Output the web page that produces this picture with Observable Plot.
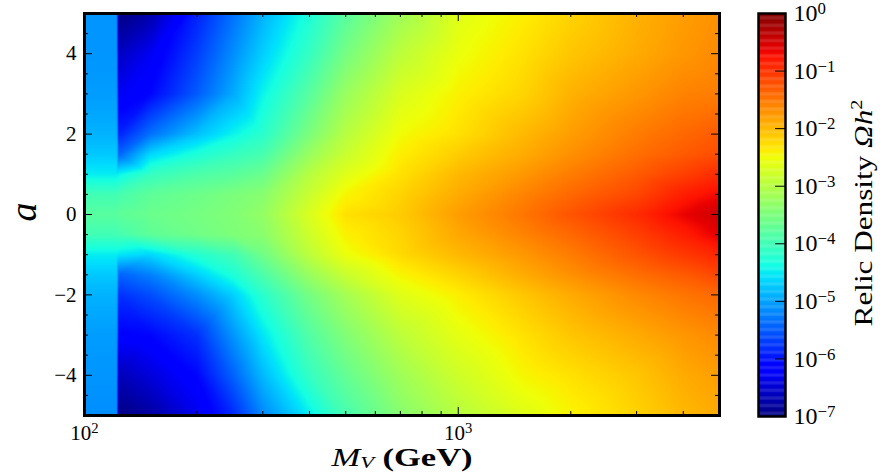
<!DOCTYPE html>
<html>
<head>
<meta charset="utf-8">
<script src="https://cdn.jsdelivr.net/npm/d3@7"></script>
<script src="https://cdn.jsdelivr.net/npm/@observablehq/plot@0.6"></script>
<style>
  html, body { margin: 0; padding: 0; background: #fff; }
  #wrap { position: relative; width: 886px; height: 475px; background: #fff; overflow: hidden;
          font-family: "Liberation Serif", "Times New Roman", "DejaVu Serif", serif; color: #000; }
  #wrap svg { position: absolute; top: 0; }
  .lbl { position: absolute; white-space: nowrap; line-height: 1; }
</style>
</head>
<body>
<div id="wrap"></div>
<script>
// ---- data: log10 of relic density Omega h^2 ----
const mvGrid = [100, 122, 123.5, 150, 200, 250, 300, 400, 500, 700, 1000, 1500, 2000, 3000, 4000, 5000];
const aGrid  = [5, 4, 3, 2, 1.5, 1, 0.5, 0, -0.5, -1, -1.5, -2, -3, -4, -5];

const rowA5    = [-5.1, -5.1, -7.0, -6.75, -5.9, -5.35, -4.9, -4.3, -3.8, -3.2, -2.65, -2.4, -2.2, -1.95, -1.8, -1.7];
const rowA4    = [-5.1, -5.1, -6.6, -6.3, -5.7, -5.15, -4.7, -4.1, -3.55, -2.95, -2.55, -2.3, -2.1, -1.9, -1.75, -1.65];
const rowA3    = [-5.05, -5.05, -6.3, -6.1, -5.5, -4.95, -4.45, -3.8, -3.25, -2.7, -2.42, -2.2, -1.95, -1.75, -1.6, -1.55];
const rowA2    = [-4.9, -4.9, -5.9, -5.35, -4.8, -4.45, -4.2, -3.5, -3.0, -2.5, -2.3, -2.0, -1.8, -1.55, -1.4, -1.3];
const rowA1p5  = [-4.75, -4.75, -5.45, -4.65, -4.3, -4.1, -3.95, -3.25, -2.85, -2.4, -2.15, -1.9, -1.7, -1.45, -1.3, -1.2];
const rowA1    = [-4.5, -4.5, -4.45, -4.1, -3.9, -3.8, -3.65, -3.0, -2.65, -2.3, -2.0, -1.75, -1.55, -1.3, -1.1, -0.95];
const rowA0p5  = [-4.0, -4.0, -3.95, -3.75, -3.62, -3.5, -3.4, -2.85, -2.45, -2.2, -1.9, -1.6, -1.4, -1.15, -0.85, -0.7];
const rowA0    = [-3.8, -3.8, -3.75, -3.65, -3.55, -3.45, -3.3, -2.7, -2.3, -2.14, -1.8, -1.5, -1.25, -0.95, -0.65, -0.45];
const rowAm0p5 = [-4.0, -4.0, -3.95, -3.75, -3.6, -3.48, -3.38, -2.8, -2.42, -2.2, -1.88, -1.6, -1.4, -1.1, -0.85, -0.6];
const rowAm1   = [-4.5, -4.5, -4.55, -4.65, -4.25, -4.0, -3.6, -2.95, -2.55, -2.25, -2.0, -1.75, -1.55, -1.25, -1.05, -0.9];
const rowAm1p5 = [-4.75, -4.75, -5.45, -5.25, -4.7, -4.3, -3.9, -3.25, -2.85, -2.45, -2.2, -1.9, -1.7, -1.45, -1.3, -1.15];
const rowAm2   = [-4.9, -4.9, -5.8, -5.6, -5.15, -4.7, -4.2, -3.55, -3.15, -2.65, -2.4, -2.1, -1.9, -1.65, -1.5, -1.4];
const rowAm3   = [-5.05, -5.05, -6.15, -6.1, -5.8, -5.1, -4.55, -3.85, -3.45, -2.95, -2.6, -2.3, -2.1, -1.9, -1.75, -1.65];
const rowAm4   = [-5.1, -5.1, -6.65, -6.45, -6.1, -5.45, -4.85, -4.1, -3.7, -3.2, -2.8, -2.45, -2.3, -2.1, -1.9, -1.8];
const rowAm5   = [-5.15, -5.15, -7.0, -6.8, -6.35, -5.85, -5.2, -4.5, -3.95, -3.4, -3.0, -2.65, -2.45, -2.2, -2.0, -1.9];

const rows = [rowA5, rowA4, rowA3, rowA2, rowA1p5, rowA1, rowA0p5, rowA0,
              rowAm0p5, rowAm1, rowAm1p5, rowAm2, rowAm3, rowAm4, rowAm5];

// tick positions / labels
const xLabelTicks = [100, 1000];
const xMinorTicks = [200, 300, 400, 500, 600, 700, 800, 900, 2000, 3000, 4000];
const xMajorTicks = [1000];
const yLabelTicks = [-4, -2, 0, 2, 4];
const yMinorTicks = [-4.5, -3.5, -3, -2.5, -1.5, -1, -0.5, 0.5, 1, 1.5, 2.5, 3, 3.5, 4.5];
const cbarTicks   = [-7, -6, -5, -4, -3, -2, -1, 0];

// ---- build table ----
const points = [];
aGrid.forEach((a, i) => mvGrid.forEach((mv, j) => points.push({mv, a, v: rows[i][j]})));

// matplotlib "jet"
const JET = {
  r: [[0, 0], [0.35, 0], [0.66, 1], [0.89, 1], [1, 0.5]],
  g: [[0, 0], [0.125, 0], [0.375, 1], [0.64, 1], [0.91, 0], [1, 0]],
  b: [[0, 0.5], [0.11, 1], [0.34, 1], [0.65, 0], [1, 0]]
};
function seg(s, t) {
  for (let i = 1; i < s.length; i++) {
    if (t <= s[i][0]) {
      const [t0, v0] = s[i - 1], [t1, v1] = s[i];
      return v0 + (v1 - v0) * (t - t0) / (t1 - t0);
    }
  }
  return s[s.length - 1][1];
}
function jet(t) {
  t = Math.max(0, Math.min(1, t));
  const c = k => Math.round(255 * seg(JET[k], t));
  return `rgb(${c("r")},${c("g")},${c("b")})`;
}
const colorOpts = {type: "linear", domain: [-7, 0], interpolate: jet, clamp: true};

const FONT = "Liberation Serif, Times New Roman, DejaVu Serif, serif";
const supLabel = d => "10^" + d;

// ---- main heatmap ----
const W = 740, H = 475, mL = 84, mR = 21, mT = 13, mB = 60;
const fW = W - mL - mR, fH = H - mT - mB;
const main = Plot.plot({
  width: W, height: H,
  marginLeft: mL, marginRight: mR, marginTop: mT, marginBottom: mB,
  style: {fontFamily: FONT, fontSize: "21px", background: "transparent", color: "black"},
  x: {type: "log", domain: [100, 5000]},
  y: {domain: [-5, 5]},
  color: colorOpts,
  marks: [
    Plot.raster(points, {x: "mv", y: "a", fill: "v", interpolate: "barycentric"}),
    Plot.ruleX(xMinorTicks, {x: d => d, insetTop: fH - 4, stroke: "black"}),
    Plot.ruleX(xMinorTicks, {x: d => d, insetBottom: fH - 4, stroke: "black"}),
    Plot.ruleX(xMajorTicks, {x: d => d, insetTop: fH - 8, stroke: "black"}),
    Plot.ruleX(xMajorTicks, {x: d => d, insetBottom: fH - 8, stroke: "black"}),
    Plot.ruleY(yMinorTicks, {y: d => d, insetRight: fW - 4, stroke: "black"}),
    Plot.ruleY(yMinorTicks, {y: d => d, insetLeft: fW - 4, stroke: "black"}),
    Plot.ruleY(yLabelTicks, {y: d => d, insetRight: fW - 8, stroke: "black"}),
    Plot.ruleY(yLabelTicks, {y: d => d, insetLeft: fW - 8, stroke: "black"}),
    Plot.frame({stroke: "black", strokeWidth: 3}),
    Plot.axisX({ticks: xLabelTicks, tickSize: 0, tickPadding: 10, label: null,
                tickFormat: d => supLabel(Math.round(Math.log10(d))), fontSize: 21}),
    Plot.axisY({ticks: yLabelTicks, tickSize: 0, tickPadding: 8, label: null,
                tickFormat: d => d < 0 ? "\u2212" + (-d) : String(d), fontSize: 21})
  ]
});
main.style.left = "0px";

// ---- colour bar ----
const levels = d3.range(-7, 0, 0.02);
const cW = 146, cL = 18, cR = 101, cT = 13, cB = 59;
const cbar = Plot.plot({
  width: cW, height: H,
  marginLeft: cL, marginRight: cR, marginTop: cT, marginBottom: cB,
  style: {fontFamily: FONT, fontSize: "24px", background: "transparent", color: "black"},
  x: {domain: [0, 1], axis: null},
  y: {domain: [-7, 0]},
  color: colorOpts,
  marks: [
    Plot.rect(levels, {x1: 0, x2: 1, y1: d => d, y2: d => Math.min(0, d + 0.025), fill: d => d + 0.01}),
    Plot.ruleY(cbarTicks.slice(1, -1), {y: d => d, insetLeft: (cW - cL - cR) - 10, stroke: "black"}),
    Plot.frame({stroke: "black", strokeWidth: 2.5}),
    Plot.axisY({anchor: "right", ticks: cbarTicks, tickSize: 0, tickPadding: 8, label: null,
                tickFormat: supLabel, fontSize: 24})
  ]
});
cbar.style.left = "740px";

// superscripts for "10^k" labels
function supify(svg, raise) {
  svg.querySelectorAll("text").forEach(t => {
    const m = /^10\^(.+)$/.exec(t.textContent);
    if (!m) return;
    const ns = "http://www.w3.org/2000/svg";
    t.textContent = "10";
    const sp = document.createElementNS(ns, "tspan");
    sp.setAttribute("dy", raise);
    sp.setAttribute("font-size", "70%");
    sp.textContent = m[1].replace("-", "\u2212");
    t.appendChild(sp);
  });
}
supify(main, "-0.5em");
supify(cbar, "-0.42em");

const wrap = document.getElementById("wrap");
wrap.appendChild(main);
wrap.appendChild(cbar);

// axis titles
function addLabel(html, css) {
  const d = document.createElement("div");
  d.className = "lbl";
  d.innerHTML = html;
  Object.assign(d.style, css);
  wrap.appendChild(d);
}
addLabel('<i>M</i><span style="font-size:65%;font-style:italic;position:relative;top:0.12em">V</span> <b>(GeV)</b>',
  {left: "402px", top: "445px", fontSize: "25px", transform: "translateX(-50%) scaleX(1.38)"});
addLabel('<i>a</i>',
  {left: "23px", top: "212px", fontSize: "38px", transform: "translate(-50%,-50%) rotate(-90deg)"});
addLabel('Relic Density <i>\u03A9h</i><span style="font-size:65%;position:relative;top:-0.6em">2</span>',
  {left: "864px", top: "213px", fontSize: "26px", transform: "translate(-50%,-50%) rotate(-90deg) scaleX(1.2)"});
</script>
</body>
</html>
